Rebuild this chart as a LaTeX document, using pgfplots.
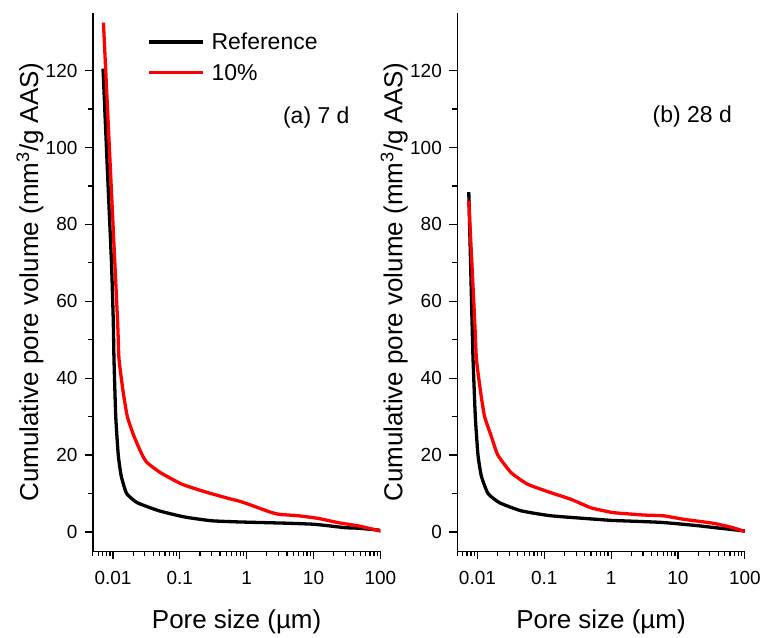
\documentclass[border=0pt]{standalone}
\usepackage{fontspec}
\setmainfont{Liberation Sans}
\usepackage{pgfplots}
\pgfplotsset{compat=1.18}

\begin{document}
\begin{tikzpicture}
\begin{axis}[
  scale only axis, width=288pt, height=539pt,
  xmode=log, xmin=0.005, xmax=100,
  ymin=-5, ymax=135,
  ytick={0,20,...,120}, minor y tick num=1,
  xtick={0.01,0.1,1,10,100}, xticklabels={0.01,0.1,1,10,100},
  minor xtick={0.005,0.006,0.007,0.008,0.009,
    0.02,0.03,0.04,0.05,0.06,0.07,0.08,0.09,
    0.2,0.3,0.4,0.5,0.6,0.7,0.8,0.9,
    2,3,4,5,6,7,8,9,20,30,40,50,60,70,80,90},
  axis x line*=bottom, axis y line*=left,
  axis line style={line width=1.3pt, -},
  tick align=outside,
  major tick length=8pt, minor tick length=5pt,
  tick style={black, line width=1.2pt},
  tick label style={font=\fontsize{19}{23}\selectfont},
  xticklabel style={yshift=-9pt},
  yticklabel style={xshift=-4pt},
  /pgf/number format/assume math mode=true,
  label style={font=\fontsize{26}{30}\selectfont},
  xlabel={Pore size (µm)},
  ylabel={Cumulative pore volume (mm\textsuperscript{3}/g AAS)},
  xlabel style={at={(axis description cs:0.5,-0.1317)}, anchor=center},
  ylabel style={at={(axis description cs:-0.219,0.5)}, anchor=center},
  legend style={draw=none, fill=none, at={(axis description cs:0.19,0.967)},
    anchor=north west, font=\fontsize{23}{27}\selectfont,
    row sep=9pt, inner sep=0pt, cells={anchor=west}},
  legend image code/.code={\draw[#1] (0pt,0pt) -- (54pt,0pt); \path (58.7pt,0pt);},
]
% (a) 7 d, Reference
\addplot[black, line width=3.3pt, smooth, tension=0.3] coordinates {
  (0.0071,120.5) (0.0085,89) (0.0095,70) (0.0101,55) (0.01035,45)
  (0.0110,30) (0.0120,20) (0.0133,14.5) (0.0160,10) (0.0231,7.6)
  (0.0486,5.5) (0.097,4.2) (0.136,3.7) (0.3,2.9) (0.76,2.6)
  (4.2,2.26) (10,2.0) (16.7,1.6) (30,1.1) (47,0.96) (97,0.44) (100,0.2)
};
\addlegendentry{Reference}
% (a) 7 d, 10%
\addplot[red, line width=3.3pt, smooth, tension=0.3] coordinates {
  (0.0072,132.5) (0.009,97) (0.0117,55) (0.0123,45) (0.01426,36.2)
  (0.0164,30) (0.0206,24.9) (0.0274,20) (0.0325,18) (0.0515,15.4)
  (0.108,12.4) (0.242,10.4) (0.538,8.7) (0.76,8.05) (1.07,7.2)
  (2.13,5.3) (3.0,4.6) (5.97,4.2) (11.9,3.5) (23.6,2.4) (47,1.56)
  (99,0.26) (100,0.1)
};
\addlegendentry{10\%}
\node[font=\fontsize{23}{27}\selectfont] at (axis description cs:0.777,0.805) {(a) 7 d};
\end{axis}

\begin{axis}[
  at={(365pt,0pt)}, anchor=south west,
  scale only axis, width=288pt, height=539pt,
  xmode=log, xmin=0.005, xmax=100,
  ymin=-5, ymax=135,
  ytick={0,20,...,120}, minor y tick num=1,
  xtick={0.01,0.1,1,10,100}, xticklabels={0.01,0.1,1,10,100},
  minor xtick={0.005,0.006,0.007,0.008,0.009,
    0.02,0.03,0.04,0.05,0.06,0.07,0.08,0.09,
    0.2,0.3,0.4,0.5,0.6,0.7,0.8,0.9,
    2,3,4,5,6,7,8,9,20,30,40,50,60,70,80,90},
  axis x line*=bottom, axis y line*=left,
  axis line style={line width=1.3pt, -},
  tick align=outside,
  major tick length=8pt, minor tick length=5pt,
  tick style={black, line width=1.2pt},
  tick label style={font=\fontsize{19}{23}\selectfont},
  xticklabel style={yshift=-9pt},
  yticklabel style={xshift=-4pt},
  /pgf/number format/assume math mode=true,
  label style={font=\fontsize{26}{30}\selectfont},
  xlabel={Pore size (µm)},
  ylabel={Cumulative pore volume (mm\textsuperscript{3}/g AAS)},
  xlabel style={at={(axis description cs:0.5,-0.1317)}, anchor=center},
  ylabel style={at={(axis description cs:-0.219,0.5)}, anchor=center},
]
% (b) 28 d, Reference
\addplot[black, line width=3.3pt, smooth, tension=0.3] coordinates {
  (0.00743,88.4) (0.0083,55) (0.0086,45) (0.0093,30) (0.0102,20)
  (0.01146,14.5) (0.0144,10) (0.0214,7.6) (0.045,5.5) (0.126,4.2)
  (0.7,3.2) (1,3.0) (5.4,2.5) (17,1.74) (47,0.88) (99,0.26) (100,0.2)
};
% (b) 28 d, 10%
\addplot[red, line width=3.3pt, smooth, tension=0.3] coordinates {
  (0.00743,86.2) (0.0091,55) (0.00967,44.9) (0.0112,36.2) (0.0128,30)
  (0.0161,24.9) (0.0202,20) (0.032,15.4) (0.0565,12.4) (0.126,10.2)
  (0.249,8.5) (0.494,6.3) (0.78,5.5) (1.1,5.0) (3.06,4.4) (6.07,4.2)
  (12,3.3) (33.6,2.26) (66.5,1.1) (99,0.1) (100,0)
};
\node[font=\fontsize{23}{27}\selectfont] at (axis description cs:0.817,0.807) {(b) 28 d};
\end{axis}
\path (-93pt,-85pt) rectangle (671pt,552pt);
\end{tikzpicture}
\end{document}
